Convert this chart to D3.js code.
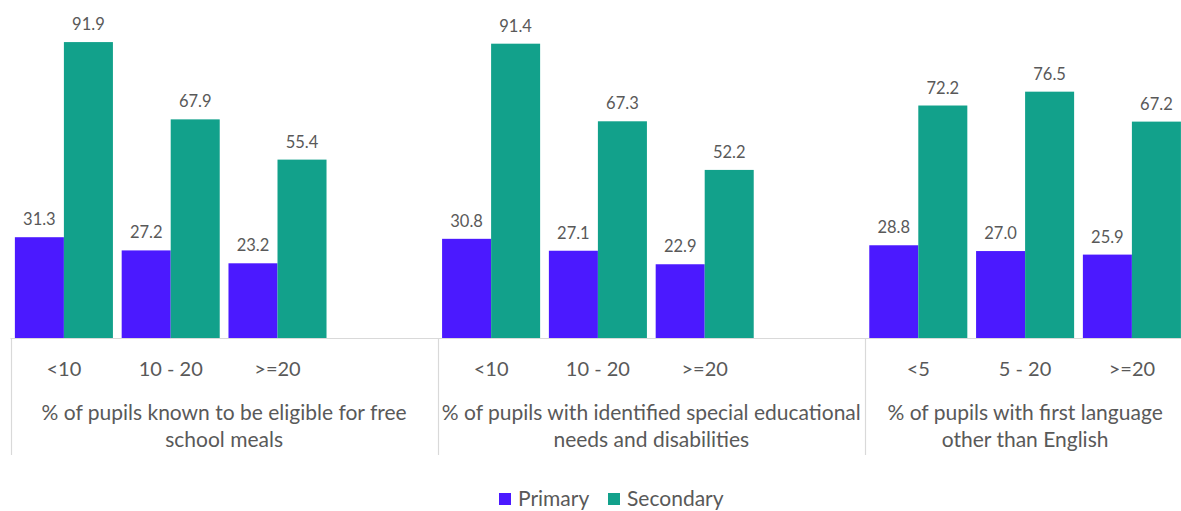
<!DOCTYPE html>
<html><head><meta charset="utf-8">
<script src="https://cdn.jsdelivr.net/npm/d3@7"></script>
<style>body{margin:0;background:#fff;} text{font-family:Lato,"Open Sans",sans-serif;fill:#595959;}</style>
</head><body><svg id="c" width="1181" height="511"></svg>
<script>
const groups = [
  ["% of pupils known to be eligible for free", "school meals"],
  ["% of pupils with identified special educational", "needs and disabilities"],
  ["% of pupils with first language", "other than English"]
];
const subcats = [["<10","10 - 20",">=20"],["<10","10 - 20",">=20"],["<5","5 - 20",">=20"]];
const primary = [31.3,27.2,23.2, 30.8,27.1,22.9, 28.8,27.0,25.9];
const secondary = [91.9,67.9,55.4, 91.4,67.3,52.2, 72.2,76.5,67.2];
const seriesNames = ["Primary","Secondary"];
const colors = ["#4B19FF","#12A18B"];

const slots = [];
subcats.forEach((sc,gi)=>{ sc.forEach((s,si)=>slots.push({g:gi,s:si,label:s,idx:gi*3+si})); if(gi<2) slots.push({g:gi,blank:true}); });
slots.forEach((d,i)=>d.id="s"+i);
const slotIds = slots.map(d=>d.id);

const svg = d3.select("#c");
const x0 = 10.5, stepW = 106.8;
const x = d3.scaleBand().domain(slotIds).range([x0,x0+11*stepW]).paddingInner(0.082).paddingOuter(0.041);
const xs = d3.scaleBand().domain(seriesNames).range([0,x.bandwidth()]);
const y = d3.scaleLinear().domain([0,100]).range([338,16]);
const step = x.step();

const data = slots.filter(d=>!d.blank);
const gBars = svg.append("g");
data.forEach(d=>{
  [primary[d.idx],secondary[d.idx]].forEach((v,k)=>{
    gBars.append("rect").attr("x",x(d.id)+xs(seriesNames[k])).attr("y",y(v))
      .attr("width",xs.bandwidth()).attr("height",y(0)-y(v)).attr("fill",colors[k]);
    gBars.append("text").attr("x",x(d.id)+xs(seriesNames[k])+xs.bandwidth()/2).attr("y",y(v)-12)
      .attr("text-anchor","middle").attr("font-size",16.5).text(v.toFixed(1));
  });
});

svg.append("line").attr("x1",x0).attr("x2",1181).attr("y1",338.5).attr("y2",338.5).attr("stroke","#d9d9d9").attr("stroke-width",1.2);
const bounds = [x0, x0+4*step, x0+8*step, x0+11*step];
bounds.forEach(b=>{
  svg.append("line").attr("x1",Math.round(b)+0.5).attr("x2",Math.round(b)+0.5).attr("y1",338).attr("y2",455).attr("stroke","#d9d9d9").attr("stroke-width",1.2);
});
data.forEach(d=>{
  svg.append("text").attr("x",x(d.id)+x.bandwidth()/2).attr("y",376).attr("text-anchor","middle").attr("font-size",20).text(d.label);
});
groups.forEach((lines,gi)=>{
  const cx = (bounds[gi]+bounds[gi+1])/2;
  lines.forEach((ln,li)=>{
    svg.append("text").attr("x",cx).attr("y",420+li*27).attr("text-anchor","middle").attr("font-size",21).text(ln);
  });
});
const leg = svg.append("g");
const legItems = [{n:"Primary",x:499},{n:"Secondary",x:608}];
legItems.forEach((it,k)=>{
  leg.append("rect").attr("x",it.x).attr("y",493).attr("width",12).attr("height",12).attr("fill",colors[k]);
  leg.append("text").attr("x",it.x+19).attr("y",506).attr("font-size",21).text(it.n);
});
</script></body></html>
